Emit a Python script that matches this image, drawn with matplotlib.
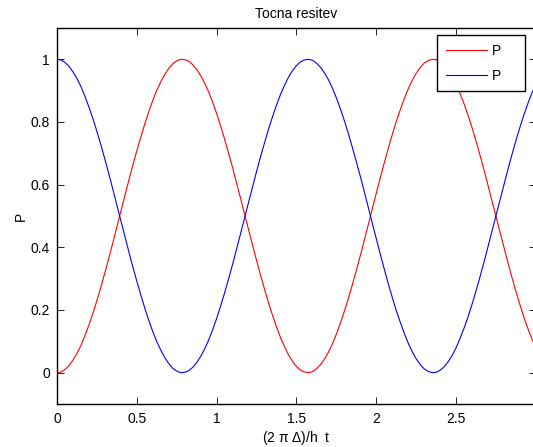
import numpy as np
import matplotlib.pyplot as plt

plt.rcParams['font.family'] = ['Liberation Sans', 'DejaVu Sans']

# casovna os: 0 .. 3, 121 vzorcev (korak 0.025)
t = np.linspace(0, 3, 121)

# rdeca krivulja
p_red = [0.000, 0.002, 0.010, 0.022, 0.040, 0.061, 0.087, 0.118, 0.152, 0.189,
         0.230, 0.273, 0.319, 0.366, 0.415, 0.465, 0.515, 0.564, 0.614, 0.662,
         0.708, 0.752, 0.794, 0.833, 0.869, 0.901, 0.928, 0.952, 0.971, 0.986,
         0.995, 1.000, 0.999, 0.994, 0.983, 0.968, 0.948, 0.924, 0.896, 0.863,
         0.827, 0.787, 0.745, 0.700, 0.654, 0.605, 0.556, 0.506, 0.456, 0.407,
         0.358, 0.311, 0.266, 0.223, 0.183, 0.146, 0.112, 0.083, 0.057, 0.036,
         0.020, 0.008, 0.002, 0.000, 0.003, 0.012, 0.025, 0.043, 0.065, 0.092,
         0.123, 0.158, 0.196, 0.237, 0.281, 0.327, 0.374, 0.423, 0.473, 0.523,
         0.573, 0.622, 0.670, 0.716, 0.760, 0.802, 0.839, 0.874, 0.906, 0.933,
         0.956, 0.974, 0.988, 0.996, 1.000, 0.999, 0.992, 0.981, 0.965, 0.945,
         0.920, 0.890, 0.857, 0.821, 0.781, 0.738, 0.693, 0.646, 0.597, 0.547,
         0.498, 0.448, 0.399, 0.350, 0.303, 0.258, 0.216, 0.176, 0.140, 0.107,
         0.078]

# modra krivulja
p_blue = [1.000, 0.998, 0.990, 0.978, 0.960, 0.939, 0.913, 0.882, 0.848, 0.811,
          0.770, 0.727, 0.681, 0.634, 0.585, 0.535, 0.485, 0.436, 0.386, 0.338,
          0.292, 0.248, 0.206, 0.167, 0.131, 0.099, 0.072, 0.048, 0.029, 0.014,
          0.005, 0.000, 0.001, 0.006, 0.017, 0.032, 0.052, 0.076, 0.104, 0.137,
          0.173, 0.213, 0.255, 0.300, 0.346, 0.395, 0.444, 0.494, 0.544, 0.593,
          0.642, 0.689, 0.734, 0.777, 0.817, 0.854, 0.888, 0.917, 0.943, 0.964,
          0.980, 0.992, 0.998, 1.000, 0.997, 0.988, 0.975, 0.957, 0.935, 0.908,
          0.877, 0.842, 0.804, 0.763, 0.719, 0.673, 0.626, 0.577, 0.527, 0.477,
          0.427, 0.378, 0.330, 0.284, 0.240, 0.198, 0.161, 0.126, 0.094, 0.067,
          0.044, 0.026, 0.012, 0.004, 0.000, 0.001, 0.008, 0.019, 0.035, 0.055,
          0.080, 0.110, 0.143, 0.179, 0.219, 0.262, 0.307, 0.354, 0.403, 0.453,
          0.502, 0.552, 0.601, 0.650, 0.697, 0.742, 0.784, 0.824, 0.860, 0.893,
          0.922]

labels = ['P', 'P']
xticks = [0, 0.5, 1, 1.5, 2, 2.5, 3]
xticklabels = ['0', '0.5', '1', '1.5', '2', '2.5', '3']
yticks = [0, 0.2, 0.4, 0.6, 0.8, 1]
yticklabels = ['0', '0.2', '0.4', '0.6', '0.8', '1']

fs = 10

fig = plt.figure(figsize=(5.33, 4.47), dpi=100)
ax = fig.add_axes([0.1069, 0.0962, 0.8987, 0.8412])

ax.plot(t, p_red, color='red', lw=0.8, label=labels[0])
ax.plot(t, p_blue, color='blue', lw=0.8, label=labels[1])

ax.set_xlim(0, 3)
ax.set_ylim(-0.1, 1.1)
ax.set_xticks(xticks)
ax.set_xticklabels(xticklabels)
ax.set_yticks(yticks)
ax.set_yticklabels(yticklabels)
ax.tick_params(direction='in', length=5, width=0.6, top=True, right=True,
               labelsize=fs)
ax.tick_params(axis='x', pad=6)
ax.tick_params(axis='y', pad=5)
for s in ax.spines.values():
    s.set_linewidth(1.0)

ax.set_title('Tocna resitev', fontsize=fs, pad=7)
ax.set_xlabel('(2 $\\mathregular{\\pi}$ $\\mathregular{\\Delta}$)/h  t', fontsize=fs, labelpad=2)
ax.set_ylabel('P', fontsize=fs, labelpad=2)

# legenda v zgornjem desnem kotu (okvir 437..525 x 35..91 px)
leg = ax.legend(loc='upper left',
                bbox_to_anchor=(437 / 533, 1 - 91 / 447, 88 / 533, 56 / 447),
                bbox_transform=fig.transFigure, mode='expand', borderaxespad=0,
                fancybox=False, edgecolor='black', framealpha=1,
                fontsize=fs, handlelength=3.0, labelspacing=0.8,
                borderpad=0.62, handletextpad=0.35)
leg.get_frame().set_linewidth(1.0)

fig.savefig('out.png', dpi=100)
